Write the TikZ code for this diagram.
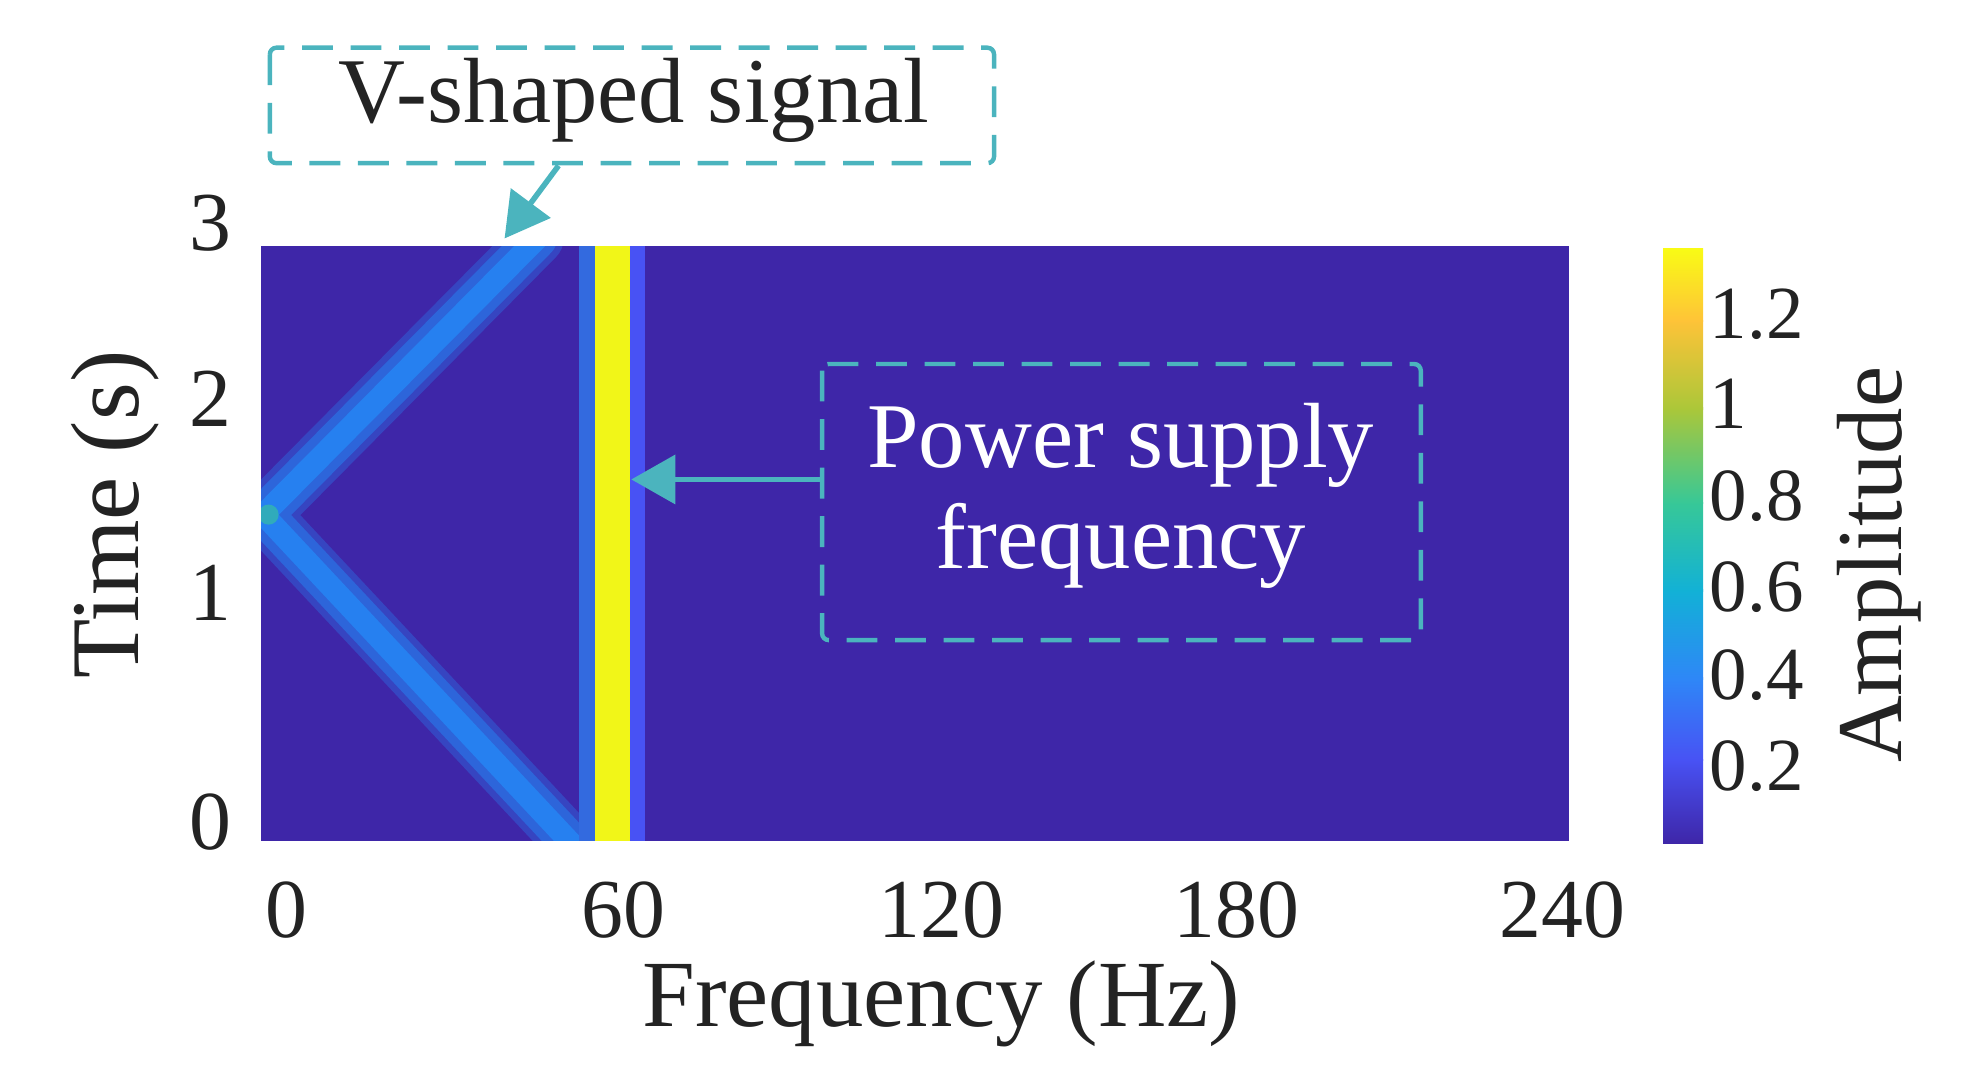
\documentclass[tikz,border=0pt]{standalone}
\usepackage{fontspec}
\setmainfont{Liberation Serif}
\usetikzlibrary{arrows.meta}
\definecolor{bg}{RGB}{62,38,168}
\definecolor{p1}{RGB}{72,82,244}
\definecolor{p2}{RGB}{46,135,247}
\definecolor{p3}{RGB}{18,177,214}
\definecolor{p4}{RGB}{55,200,151}
\definecolor{p5}{RGB}{171,199,57}
\definecolor{p6}{RGB}{254,195,56}
\definecolor{p7}{RGB}{249,251,21}
\definecolor{vb}{RGB}{38,128,240}
\definecolor{teal}{RGB}{75,180,190}
\definecolor{txt}{RGB}{35,35,35}
\tikzset{
  lbl/.style={font=\fontsize{34}{36}\selectfont, text=txt, inner sep=0pt},
  big/.style={font=\fontsize{42}{46}\selectfont, text=txt, inner sep=0pt},
  dbox/.style={draw=teal, dashed, dash pattern=on 14pt off 8pt, line width=2pt, rounded corners=3pt},
  arr/.style={draw=teal, line width=2.5pt, -{Triangle[length=20pt,width=22pt]}}
}
\begin{document}
\begin{tikzpicture}[x=0.02cm,y=-0.02cm]
\useasboundingbox (0,0) rectangle (1568,863);
% plot
\fill[bg] (208,196) rectangle (1250,670);
\begin{scope}
\clip (208,196) rectangle (1250,670);
\draw[line cap=round, line width=24pt, color=vb!35!bg] (210,410) -- (428,190) (210,410) -- (458,675);
\draw[line cap=round, line width=18pt, color=vb!70!bg] (210,410) -- (428,190) (210,410) -- (458,675);
\draw[line cap=round, line width=10pt, color=vb] (210,410) -- (428,190) (210,410) -- (458,675);
\fill[p4!60!vb] (214,410) circle (8);
\fill[p2!70!bg] (461,196) rectangle (474,670);
\fill[p7!90!p5] (474,196) rectangle (502,670);
\fill[p1] (502,196) rectangle (514,670);
\end{scope}
% colorbar
\shade[bottom color=bg, top color=p1] (1325,672) rectangle (1357,605);
\shade[bottom color=p1, top color=p2] (1325,606) rectangle (1357,540);
\shade[bottom color=p2, top color=p3] (1325,541) rectangle (1357,470);
\shade[bottom color=p3, top color=p4] (1325,471) rectangle (1357,400);
\shade[bottom color=p4, top color=p5] (1325,401) rectangle (1357,325);
\shade[bottom color=p5, top color=p6] (1325,326) rectangle (1357,255);
\shade[bottom color=p6, top color=p7] (1325,256) rectangle (1357,198);
\foreach \yy/\t in {250/1.2,322/1,395/0.8,468/0.6,538/0.4,610/0.2}{
  \node[lbl, anchor=west] (c\yy) at (1362,\yy) {\t};
}
\node[big, rotate=90] (amp) at (1497,450) {Amplitude};
% axes labels
\foreach \yy/\t in {178/3,318/2,472/1,655/0}{
  \node[lbl, font=\fontsize{38}{40}\selectfont] (y\t) at (168,\yy) {\t};
}
\foreach \xx/\t in {228/0,497/60,750/120,985/180,1245/240}{
  \node[lbl, font=\fontsize{38}{40}\selectfont] (x\t) at (\xx,725) {\t};
}
\node[big, font=\fontsize{43}{46}\selectfont] (fl) at (750,800) {Frequency (Hz)};
\node[big, font=\fontsize{44}{46}\selectfont, rotate=90] (tl) at (92,410) {Time (s)};
% annotations
\draw[dbox] (215,38) rectangle (792,130);
\node[big] (vs) at (505,80) {V-shaped signal};
\coordinate (va) at (445,132);
\coordinate (vt) at (402,190);
\draw[arr] (va) -- (vt);
\draw[dbox] (655,290) rectangle (1132,510);
\node[big, text=white, align=center, font=\fontsize{42}{46}\selectfont] (ps) at (893,395) {Power supply\\frequency};
\coordinate (pa) at (655,382);
\coordinate (pt) at (503,382);
\draw[arr] (pa) -- (pt);
\end{tikzpicture}
\end{document}
